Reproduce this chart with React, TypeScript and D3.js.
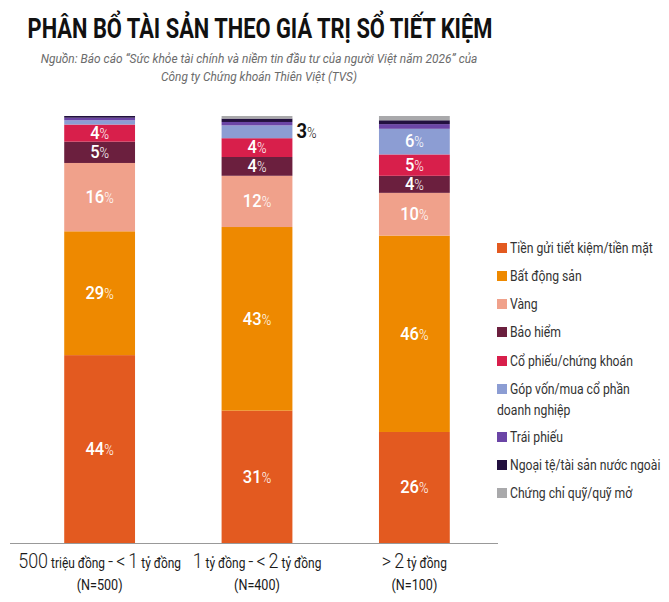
import * as d3 from "d3";
import React, { useEffect, useRef } from "react";

// Categories (savings book value groups)
const groups = ["500 triệu đồng - < 1 tỷ đồng", "1 tỷ đồng - < 2 tỷ đồng", "> 2 tỷ đồng"];
const sampleSizes = ["(N=500)", "(N=400)", "(N=100)"];

// Asset classes, stacked bottom to top
const assets = [
  "Tiền gửi tiết kiệm/tiền mặt",
  "Bất động sản",
  "Vàng",
  "Bảo hiểm",
  "Cổ phiếu/chứng khoán",
  "Góp vốn/mua cổ phần doanh nghiệp",
  "Trái phiếu",
  "Ngoại tệ/tài sản nước ngoài",
  "Chứng chỉ quỹ/quỹ mở",
];
const colors = ["#e35a20", "#ee8900", "#f0a18b", "#6b1f3e", "#d81f4b", "#8c9dd3", "#6b45a6", "#22103f", "#a9a9ab"];

// Share (%) per group, same order as assets
const savingsCash = [44, 31, 26];
const realEstate = [29, 43, 46];
const gold = [16, 12, 10];
const insurance = [5, 4.4, 4];
const stocks = [4, 4.4, 5];
const equityStakes = [1, 3, 6];
const bonds = [0.6, 0.8, 1.1];
const foreignAssets = [0.4, 0.8, 0.9];
const funds = [0, 0.6, 1];

const series = [savingsCash, realEstate, gold, insurance, stocks, equityStakes, bonds, foreignAssets, funds];

const W = 669;
const H = 602;
const FONT = "Roboto, 'Liberation Sans', sans-serif";

// squeeze a text horizontally so it looks like the condensed face of the original
function squeeze(node: SVGTextElement, k: number) {
  const g = node.parentNode as SVGGElement;
  const t = g.getAttribute("transform") || "";
  g.setAttribute("transform", `${t} scale(${k},1)`);
}

const App: React.FC = () => {
  const svgRef = useRef<SVGSVGElement>(null);

  useEffect(() => {
    if (!svgRef.current) return;
    const svg = d3.select(svgRef.current);
    svg.selectAll("*").remove();

    const rows = groups.map((g, i) => {
      const r: Record<string, number | string> = { group: g };
      assets.forEach((a, j) => (r[a] = series[j][i]));
      return r;
    });
    const stacked = d3.stack<any>().keys(assets)(rows);

    const x = d3.scaleBand().domain(groups).range([17, 497]).paddingInner(0.55).paddingOuter(0.3);
    const y = d3.scaleLinear().domain([0, 100]).range([543, 116]);

    // Title
    const title = svg
      .append("g")
      .attr("transform", "translate(260,38)")
      .append("text")
      .attr("text-anchor", "middle")
      .attr("font-family", FONT)
      .attr("font-weight", "bold")
      .attr("font-size", 27)
      .attr("fill", "#111")
      .text("PHÂN BỔ TÀI SẢN THEO GIÁ TRỊ SỔ TIẾT KIỆM");
    squeeze(title.node()!, 465 / title.node()!.getComputedTextLength());

    const sub = [
      "Nguồn: Báo cáo “Sức khỏe tài chính và niềm tin đầu tư của người Việt năm 2026” của",
      "Công ty Chứng khoán Thiên Việt (TVS)",
    ];
    const subWidth = [437, 196];
    sub.forEach((s, i) => {
      const t = svg
        .append("g")
        .attr("transform", `translate(259,${63 + i * 18})`)
        .append("text")
        .attr("text-anchor", "middle")
        .attr("font-family", FONT)
        .attr("font-style", "italic")
        .attr("font-size", 13)
        .attr("fill", "#6b6b6b")
        .text(s);
      squeeze(t.node()!, subWidth[i] / t.node()!.getComputedTextLength());
    });

    // Bars
    const layers = svg
      .append("g")
      .selectAll("g")
      .data(stacked)
      .join("g")
      .attr("fill", (d, i) => colors[i]);

    layers
      .selectAll("rect")
      .data((d) => d.map((v) => ({ v, key: d.key })))
      .join("rect")
      .attr("x", (d) => x(d.v.data.group as string)!)
      .attr("width", x.bandwidth())
      .attr("y", (d) => y(d.v[1]))
      .attr("height", (d) => y(d.v[0]) - y(d.v[1]));

    // Value labels
    const labels: { x: number; y: number; val: number; inside: boolean }[] = [];
    stacked.forEach((layer) => {
      layer.forEach((v) => {
        const val = v[1] - v[0];
        const bx = x(v.data.group as string)!;
        if (val >= 3.5) {
          labels.push({ x: bx + x.bandwidth() / 2, y: (y(v[0]) + y(v[1])) / 2, val, inside: true });
        } else if (val >= 2.5) {
          labels.push({ x: bx + x.bandwidth() + 4, y: (y(v[0]) + y(v[1])) / 2, val, inside: false });
        }
      });
    });

    const lt = svg
      .append("g")
      .selectAll("g")
      .data(labels)
      .join("g")
      .attr("transform", (d) => `translate(${d.x},${d.y})`)
      .append("text")
      .attr("dy", "0.36em")
      .attr("text-anchor", (d) => (d.inside ? "middle" : "start"))
      .attr("font-family", FONT)
      .attr("fill", (d) => (d.inside ? "#fff" : "#111"));
    lt.append("tspan")
      .attr("font-size", (d) => (d.inside ? 18 : 20))
      .attr("font-weight", (d) => (d.inside ? 500 : "bold"))
      .text((d) => Math.round(d.val));
    lt.append("tspan").attr("font-size", 14).attr("font-weight", 300).text("%");
    lt.each(function () {
      squeeze(this as SVGTextElement, 0.92);
    });

    // Baseline axis
    svg
      .append("line")
      .attr("x1", 10)
      .attr("x2", 498)
      .attr("y1", y(0) + 0.5)
      .attr("y2", y(0) + 0.5)
      .attr("stroke", "#999")
      .attr("stroke-width", 1);

    // Category labels
    const cat = svg
      .append("g")
      .selectAll("g")
      .data(groups)
      .join("g")
      .attr("transform", (d) => `translate(${x(d)! + x.bandwidth() / 2},0)`);

    const ctg = cat.append("g").attr("transform", "translate(0,568)");
    const ct = ctg
      .append("text")
      .attr("text-anchor", "middle")
      .attr("font-family", FONT)
      .attr("fill", "#1a1a1a");
    ct.selectAll("tspan")
      .data((d) => d.split(/([\d<>-]+)/).filter((s) => s.length))
      .join("tspan")
      .attr("font-size", (s) => (/[\d<>-]/.test(s) ? 21 : 14))
      .attr("font-weight", (s) => (/[\d<>-]/.test(s) ? 300 : 400))
      .text((s) => s);
    const catK = 163 / (ct.node() as SVGTextElement).getComputedTextLength();
    ct.each(function () {
      squeeze(this as SVGTextElement, catK);
    });

    cat
      .append("g")
      .attr("transform", "translate(0,590)")
      .append("text")
      .attr("text-anchor", "middle")
      .attr("font-family", FONT)
      .attr("font-size", 14)
      .attr("fill", "#1a1a1a")
      .text((d, i) => sampleSizes[i])
      .each(function () {
        squeeze(this as SVGTextElement, 0.9);
      });

    // Legend
    const legendY = [248, 276, 304, 332, 361, 389, 437, 465, 493];
    const lg = svg
      .append("g")
      .selectAll("g")
      .data(assets)
      .join("g")
      .attr("transform", (d, i) => `translate(497,${legendY[i]})`);
    lg.append("rect")
      .attr("y", -5)
      .attr("width", 10)
      .attr("height", 10)
      .attr("fill", (d, i) => colors[i]);
    const legendTexts: SVGTextElement[] = [];
    lg.each(function (d) {
      const g = d3.select(this);
      const lines = d === "Góp vốn/mua cổ phần doanh nghiệp" ? ["Góp vốn/mua cổ phần", "doanh nghiệp"] : [d];
      lines.forEach((l, i) => {
        const t = g
          .append("g")
          .attr("transform", `translate(${i === 0 ? 13 : 0},${i * 21})`)
          .append("text")
          .attr("dy", "0.35em")
          .attr("font-family", FONT)
          .attr("font-size", 14.5)
          .attr("fill", "#333")
          .text(l);
        legendTexts.push(t.node()!);
      });
    });
    const legK = 143 / legendTexts[0].getComputedTextLength();
    legendTexts.forEach((t) => squeeze(t, legK));
  }, []);

  return (
    <svg
      ref={svgRef}
      width={W}
      height={H}
      style={{ position: "absolute", left: 0, top: 0, background: "#fff" }}
    />
  );
};

export default App;
